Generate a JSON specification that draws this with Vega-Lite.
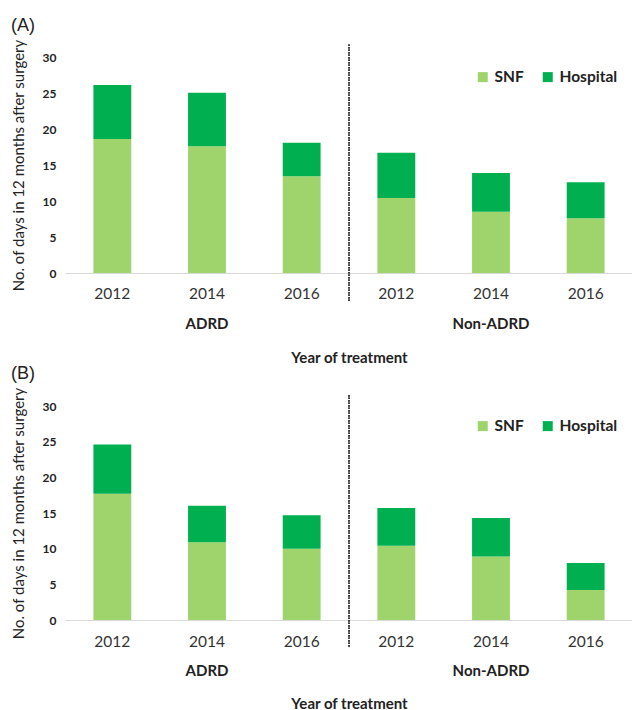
{
  "$schema": "https://vega.github.io/schema/vega-lite/v6.json",
  "padding": {"left": 11, "top": 16, "right": 0, "bottom": 0},
  "background": "white",
  "datasets": {
    "A": [
      {"group": "ADRD", "year": "2012", "type": "SNF", "days": 18.6},
      {"group": "ADRD", "year": "2012", "type": "Hospital", "days": 7.5},
      {"group": "ADRD", "year": "2014", "type": "SNF", "days": 17.6},
      {"group": "ADRD", "year": "2014", "type": "Hospital", "days": 7.45},
      {"group": "ADRD", "year": "2016", "type": "SNF", "days": 13.45},
      {"group": "ADRD", "year": "2016", "type": "Hospital", "days": 4.65},
      {"group": "Non-ADRD", "year": "2012", "type": "SNF", "days": 10.4},
      {"group": "Non-ADRD", "year": "2012", "type": "Hospital", "days": 6.3},
      {"group": "Non-ADRD", "year": "2014", "type": "SNF", "days": 8.5},
      {"group": "Non-ADRD", "year": "2014", "type": "Hospital", "days": 5.4},
      {"group": "Non-ADRD", "year": "2016", "type": "SNF", "days": 7.6},
      {"group": "Non-ADRD", "year": "2016", "type": "Hospital", "days": 5.0}
    ],
    "B": [
      {"group": "ADRD", "year": "2012", "type": "SNF", "days": 17.7},
      {"group": "ADRD", "year": "2012", "type": "Hospital", "days": 6.9},
      {"group": "ADRD", "year": "2014", "type": "SNF", "days": 10.9},
      {"group": "ADRD", "year": "2014", "type": "Hospital", "days": 5.1},
      {"group": "ADRD", "year": "2016", "type": "SNF", "days": 10.0},
      {"group": "ADRD", "year": "2016", "type": "Hospital", "days": 4.7},
      {"group": "Non-ADRD", "year": "2012", "type": "SNF", "days": 10.4},
      {"group": "Non-ADRD", "year": "2012", "type": "Hospital", "days": 5.3},
      {"group": "Non-ADRD", "year": "2014", "type": "SNF", "days": 8.9},
      {"group": "Non-ADRD", "year": "2014", "type": "Hospital", "days": 5.4},
      {"group": "Non-ADRD", "year": "2016", "type": "SNF", "days": 4.2},
      {"group": "Non-ADRD", "year": "2016", "type": "Hospital", "days": 3.8}
    ]
  },
  "spacing": 133,
  "bounds": "flush",
  "resolve": {"legend": {"color": "independent"}},
  "vconcat": [
    {
      "title": {"text": "(A)"},
      "width": 568,
      "height": 216,
      "data": {"name": "A"},
      "encoding": {
        "x": {"field": "group", "type": "nominal", "title": "Year of treatment",
          "scale": {"paddingInner": 0, "paddingOuter": 0},
          "axis": {"labelAngle": 0, "ticks": false, "labelPadding": 43, "labelFontWeight": "bold", "labelFontSize": 15, "titlePadding": 19, "domainColor": "#d9d9d9"}},
        "y": {"field": "days", "type": "quantitative", "title": "No. of days in 12 months after surgery",
          "scale": {"domain": [0, 30], "nice": false},
          "axis": {"values": [0, 5, 10, 15, 20, 25, 30], "labelOverlap": false, "grid": false, "domain": false, "ticks": false, "labelPadding": 9, "labelFontWeight": "bold", "labelFontSize": 12, "titlePadding": 16}}
      },
      "layer": [
        {
          "mark": {"type": "bar"},
          "encoding": {
            "xOffset": {"field": "year", "type": "nominal", "scale": {"paddingInner": 0.6, "paddingOuter": 0.3}},
            "color": {"field": "type", "type": "nominal", "scale": {"domain": ["SNF", "Hospital"], "range": ["#9ed46b", "#00b050"]}, "legend": {"title": null}},
            "order": {"field": "type", "sort": "descending"}
          }
        },
        {
          "transform": [{"filter": "datum.type == 'SNF'"}],
          "mark": {"type": "text", "dy": 21, "fontSize": 15.5, "color": "#333333", "baseline": "middle"},
          "encoding": {
            "xOffset": {"field": "year", "type": "nominal"},
            "y": {"datum": 0},
            "text": {"field": "year"}
          }
        },
        {
          "mark": {"type": "rule", "strokeDash": [1, 1.5], "color": "#404040", "strokeWidth": 1},
          "encoding": {
            "x": {"datum": "Non-ADRD", "bandPosition": 0},
            "y": {"datum": 31.7},
            "y2": {"datum": -4}
          }
        }
      ]
    },
    {
      "title": {"text": "(B)"},
      "width": 568,
      "height": 214,
      "data": {"name": "B"},
      "encoding": {
        "x": {"field": "group", "type": "nominal", "title": "Year of treatment",
          "scale": {"paddingInner": 0, "paddingOuter": 0},
          "axis": {"labelAngle": 0, "ticks": false, "labelPadding": 43, "labelFontWeight": "bold", "labelFontSize": 15, "titlePadding": 18, "domainColor": "#d9d9d9"}},
        "y": {"field": "days", "type": "quantitative", "title": "No. of days in 12 months after surgery",
          "scale": {"domain": [0, 30], "nice": false},
          "axis": {"values": [0, 5, 10, 15, 20, 25, 30], "labelOverlap": false, "grid": false, "domain": false, "ticks": false, "labelPadding": 9, "labelFontWeight": "bold", "labelFontSize": 12, "titlePadding": 16}}
      },
      "layer": [
        {
          "mark": {"type": "bar"},
          "encoding": {
            "xOffset": {"field": "year", "type": "nominal", "scale": {"paddingInner": 0.6, "paddingOuter": 0.3}},
            "color": {"field": "type", "type": "nominal", "scale": {"domain": ["SNF", "Hospital"], "range": ["#9ed46b", "#00b050"]}, "legend": {"title": null}},
            "order": {"field": "type", "sort": "descending"}
          }
        },
        {
          "transform": [{"filter": "datum.type == 'SNF'"}],
          "mark": {"type": "text", "dy": 22, "fontSize": 15.5, "color": "#333333", "baseline": "middle"},
          "encoding": {
            "xOffset": {"field": "year", "type": "nominal"},
            "y": {"datum": 0},
            "text": {"field": "year"}
          }
        },
        {
          "mark": {"type": "rule", "strokeDash": [1, 1.5], "color": "#404040", "strokeWidth": 1},
          "encoding": {
            "x": {"datum": "Non-ADRD", "bandPosition": 0},
            "y": {"datum": 31.5},
            "y2": {"datum": -3.9}
          }
        }
      ]
    }
  ],
  "config": {
    "font": "Lato",
    "view": {"stroke": null},
    "title": {"font": "Liberation Sans", "fontSize": 18, "fontWeight": "normal", "anchor": "start", "frame": "bounds", "color": "#222222"},
    "axis": {"labelColor": "#222222", "titleColor": "#222222", "titleFontSize": 15, "titleFontWeight": "normal"},
    "axisX": {"titleFontWeight": "bold"},
    "legend": {"orient": "none", "legendX": 410, "legendY": 12, "direction": "horizontal", "symbolType": "square", "symbolSize": 100, "symbolStrokeWidth": 0, "symbolOpacity": 1, "labelFontSize": 15.5, "labelFontWeight": "bold", "labelColor": "#222222", "columnPadding": 16}
  }
}
